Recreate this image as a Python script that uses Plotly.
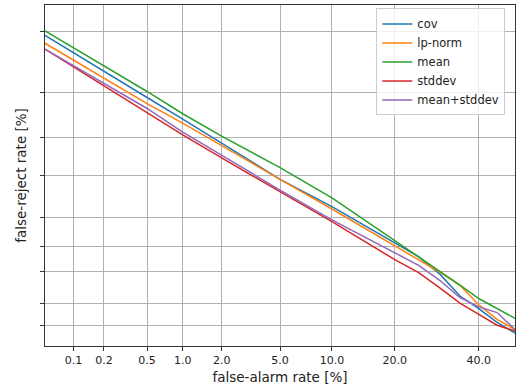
from statistics import NormalDist
import plotly.graph_objects as go

# False-alarm rate [%] sample points
far = [0.05, 0.1, 0.2, 0.5, 1.0, 2.0, 5.0, 10.0, 20.0, 25.0, 30.0, 35.0, 40.0, 45.0, 50.0]

# False-reject rate [%] per method
cov = [38.5, 32.2, 26.2, 18.6, 13.55, 9.15, 4.63, 2.58, 1.07, 0.757, 0.467, 0.249, 0.170, 0.110, 0.077]
lp_norm = [35.6, 29.7, 24.1, 17.05, 12.7, 8.69, 4.63, 2.45, 1.01, 0.70, 0.494, 0.342, 0.190, 0.121, 0.087]
mean = [40.1, 33.9, 27.95, 20.2, 14.7, 10.3, 5.82, 3.14, 1.15, 0.757, 0.514, 0.343, 0.231, 0.170, 0.125]
stddev = [33.5, 27.5, 21.9, 15.1, 10.5, 7.0, 3.56, 1.83, 0.70, 0.49, 0.315, 0.201, 0.142, 0.100, 0.083]
mean_stddev = [33.5, 27.9, 22.5, 15.9, 11.0, 7.36, 3.71, 1.91, 0.83, 0.60, 0.392, 0.238, 0.179, 0.150, 0.087]

series_names = ["cov", "lp-norm", "mean", "stddev", "mean+stddev"]
series_values = [cov, lp_norm, mean, stddev, mean_stddev]
colors = ["#1f77b4", "#ff7f0e", "#2ca02c", "#d62728", "#9467bd"]

tick_pct = [0.1, 0.2, 0.5, 1.0, 2.0, 5.0, 10.0, 20.0, 40.0]
tick_labels = ["0.1", "0.2", "0.5", "1.0", "2.0", "5.0", "10.0", "20.0", "40.0"]
axis_lim = [0.05, 50.0]

nd = NormalDist()


def probit(pcts):
    return [nd.inv_cdf(p / 100.0) for p in pcts]


fig = go.Figure()
for name, vals, col in zip(series_names, series_values, colors):
    fig.add_trace(go.Scatter(x=probit(far), y=probit(vals), mode="lines", name=name,
                             line=dict(color=col, width=1.5)))

axis_common = dict(
    range=probit(axis_lim), tickmode="array", tickvals=probit(tick_pct),
    showgrid=True, gridcolor="#b0b0b0", gridwidth=1,
    showline=True, linecolor="#333333", linewidth=1, mirror=True,
    ticks="outside", ticklen=4, tickcolor="#333333", zeroline=False,
)

fig.update_xaxes(**axis_common, ticktext=tick_labels,
                 tickfont=dict(family="DejaVu Sans", size=11, color="#222222"),
                 title=dict(text="false-alarm rate [%]", standoff=6,
                            font=dict(family="DejaVu Sans", size=13.5, color="#222222")))
fig.update_yaxes(**axis_common, ticktext=[""] * len(tick_labels), showticklabels=False,
                 title=dict(text="false-reject rate [%]", standoff=10,
                            font=dict(family="DejaVu Sans", size=13.5, color="#222222")))

fig.update_layout(
    width=516, height=391,
    margin=dict(l=45, r=1, t=5, b=45, autoexpand=False),
    paper_bgcolor="white", plot_bgcolor="white",
    showlegend=True,
    legend=dict(x=0.705, y=0.99, xanchor="left", yanchor="top",
                bgcolor="rgba(255,255,255,0.8)", bordercolor="#cccccc", borderwidth=1,
                font=dict(family="DejaVu Sans", size=11.5, color="#222222"),
                tracegroupgap=0, itemwidth=30),
    font=dict(family="DejaVu Sans"),
)

fig.write_html("out.html", config={"displayModeBar": False},
               post_script="document.body.style.margin='0';document.body.style.overflow='hidden';")
